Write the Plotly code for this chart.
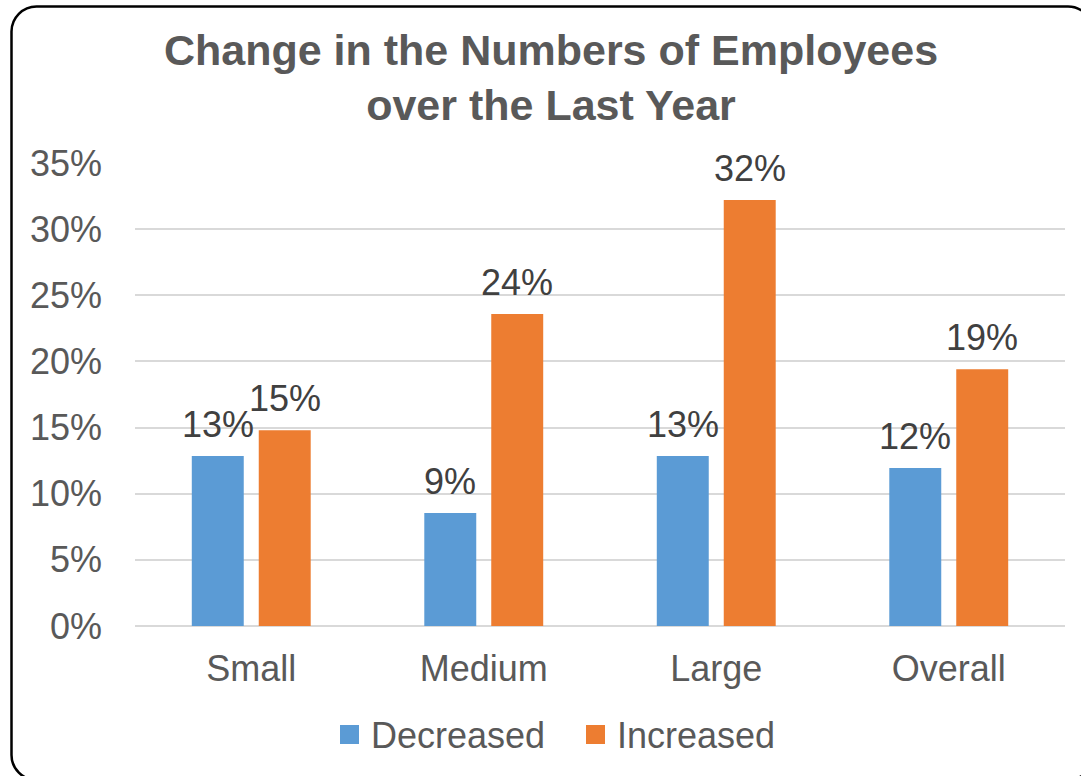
import plotly.graph_objects as go

# Chart data
categories = ["Small", "Medium", "Large", "Overall"]
decreased = [0.1285, 0.0855, 0.1285, 0.1195]
increased = [0.148, 0.2358, 0.322, 0.194]
series_names = ["Decreased", "Increased"]
y_ticks = [0, 0.05, 0.10, 0.15, 0.20, 0.25, 0.30, 0.35]
y_tick_text = ["0%", "5%", "10%", "15%", "20%", "25%", "30%", "35%"]

BLUE = "#5B9BD5"
ORANGE = "#ED7D31"
AXIS_TEXT = "#595959"
LABEL_TEXT = "#404040"
GRID = "#D9D9D9"
FONT = "Liberation Sans, Arial, sans-serif"

W, H = 1081, 776
M_L, M_R, M_T, M_B = 135, 16, 163, 150
PW, PH = W - M_L - M_R, H - M_T - M_B
BARGAP, BARGROUPGAP = 0.424, 0.224


def px_x(px):
    """Convert a pixel x position to paper coordinates."""
    return (px - M_L) / PW


def px_y(py):
    """Convert a pixel y position (from top) to paper coordinates."""
    return (H - M_B - py) / PH


fig = go.Figure()
series = list(zip(series_names, [decreased, increased], [BLUE, ORANGE]))
for name, vals, col in series:
    fig.add_trace(go.Bar(
        x=categories, y=vals, name=name,
        marker=dict(color=col, line=dict(width=0)),
        showlegend=False, hoverinfo="x+y+name",
    ))

annotations = []

# Value labels above each bar, offset to the bar's slot within its group
slot_px = PW / len(categories) * (1 - BARGAP) / len(series)
for i, (name, vals, col) in enumerate(series):
    offset = (i - (len(series) - 1) / 2) * slot_px
    for cat, v in zip(categories, vals):
        annotations.append(dict(
            xref="x", yref="y", x=cat, y=v, xshift=offset, yshift=9,
            text=f"{v:.0%}", showarrow=False, xanchor="center", yanchor="bottom",
            font=dict(family=FONT, size=36, color=LABEL_TEXT)))

# Rounded outer frame
left, top, right, bottom, r = 11.5, 6.5, 1093, 780, 25
k = 0.45
frame = (
    f"M {px_x(left + r)},{px_y(top)} "
    f"L {px_x(right - r)},{px_y(top)} "
    f"C {px_x(right - r * k)},{px_y(top)} {px_x(right)},{px_y(top + r * k)} {px_x(right)},{px_y(top + r)} "
    f"L {px_x(right)},{px_y(bottom - r)} "
    f"C {px_x(right)},{px_y(bottom - r * k)} {px_x(right - r * k)},{px_y(bottom)} {px_x(right - r)},{px_y(bottom)} "
    f"L {px_x(left + r)},{px_y(bottom)} "
    f"C {px_x(left + r * k)},{px_y(bottom)} {px_x(left)},{px_y(bottom - r * k)} {px_x(left)},{px_y(bottom - r)} "
    f"L {px_x(left)},{px_y(top + r)} "
    f"C {px_x(left)},{px_y(top + r * k)} {px_x(left + r * k)},{px_y(top)} {px_x(left + r)},{px_y(top)} Z"
)
shapes = [dict(type="path", xref="paper", yref="paper", path=frame,
               line=dict(color="black", width=2.5), fillcolor="rgba(0,0,0,0)", layer="above")]

# Legend drawn as swatches with text
legend_items = [(series_names[0], BLUE, 340), (series_names[1], ORANGE, 586)]
for name, col, x0 in legend_items:
    shapes.append(dict(type="rect", xref="paper", yref="paper",
                       x0=px_x(x0), x1=px_x(x0 + 19), y0=px_y(744), y1=px_y(725),
                       fillcolor=col, line=dict(width=0)))
    annotations.append(dict(xref="paper", yref="paper", x=px_x(x0 + 29), y=px_y(735),
                            text=name, showarrow=False, xanchor="left", yanchor="middle",
                            font=dict(family=FONT, size=36, color=AXIS_TEXT)))

fig.update_layout(
    width=W, height=H,
    margin=dict(l=M_L, r=M_R, t=M_T, b=M_B, pad=0),
    paper_bgcolor="white", plot_bgcolor="white",
    barmode="group", bargap=BARGAP, bargroupgap=BARGROUPGAP,
    title=dict(text="<b>Change in the Numbers of Employees<br>over the Last Year</b>",
               x=551 / W, xref="container", xanchor="center",
               y=1 - 64.5 / H, yref="container", yanchor="middle",
               font=dict(family=FONT, size=43, color=AXIS_TEXT)),
    shapes=shapes, annotations=annotations,
    showlegend=False,
)
fig.update_yaxes(range=[0, 0.35], tickvals=y_ticks, ticktext=y_tick_text,
                 showgrid=True, gridcolor=GRID, gridwidth=1.5,
                 zeroline=True, zerolinecolor=GRID, zerolinewidth=1.5,
                 showline=False, ticks="", ticklabelstandoff=32,
                 tickfont=dict(family=FONT, size=36, color=AXIS_TEXT))
fig.update_xaxes(showgrid=False, showline=False, ticks="", ticklabelstandoff=18,
                 tickfont=dict(family=FONT, size=36, color=AXIS_TEXT))

fig.write_html("out.html")
